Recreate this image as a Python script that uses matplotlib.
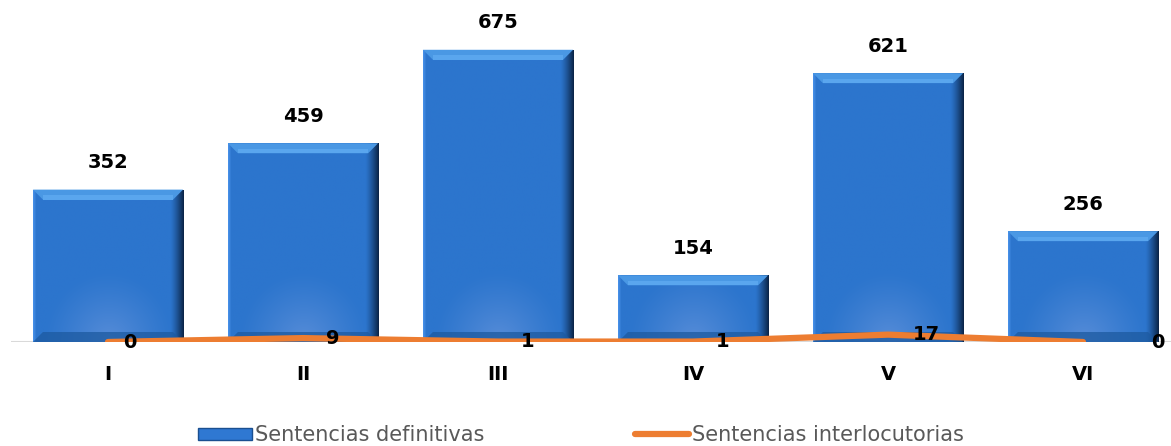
import numpy as np
import matplotlib
matplotlib.use("Agg")
import matplotlib.pyplot as plt
import matplotlib.transforms as mtransforms
from matplotlib.patches import Patch
from matplotlib.lines import Line2D

categories = ["I", "II", "III", "IV", "V", "VI"]
definitivas = [352, 459, 675, 154, 621, 256]
interlocutorias = [0, 9, 1, 1, 17, 0]
series_names = ["Sentencias definitivas", "Sentencias interlocutorias"]

W, H = 1171, 446
AX_H_PX = 342
YMAX = 790
fig = plt.figure(figsize=(W / 100, H / 100), dpi=100)
ax = fig.add_axes([10.5 / W, (H - AX_H_PX) / H, 1170 / W, AX_H_PX / H])
ax.set_xlim(-0.5, len(categories) - 0.5)
ax.set_ylim(0, YMAX)
ax.axis("off")

x = np.arange(len(categories))
bars = ax.bar(x, definitivas, width=0.77, color="#2f78d2", edgecolor="none", zorder=2)


def bar_texture(h_px, w_px=150):
    h_px = max(int(h_px), 10)
    yy, xx = np.mgrid[0:h_px, 0:w_px]
    px_from_bottom = (h_px - 1 - yy)
    u = xx / (w_px - 1)
    base = np.array([44, 117, 205], float) / 255
    img = np.ones((h_px, w_px, 3)) * base
    # subtle bottom glow (fixed pixel size)
    d = np.sqrt(((xx - w_px / 2) / 65.0) ** 2 + (px_from_bottom / 70.0) ** 2)
    glow = np.clip(1 - d, 0, 1) ** 1.2 * 0.45
    img = img + glow[..., None] * (np.array([140, 170, 230]) / 255 - base)
    # right dark edge
    r = np.clip((xx - (w_px - 14)) / 14.0, 0, 1) ** 1.3
    dark = np.array([8, 30, 60]) / 255
    img = img * (1 - r[..., None]) + dark * r[..., None]
    # left thin light edge
    l = np.clip((3 - xx) / 3.0, 0, 1)
    img = img + l[..., None] * 0.10
    return np.clip(img, 0, 1)


px_per_unit = AX_H_PX / YMAX
for b in bars:
    x0, y0 = b.get_x(), b.get_y()
    w, h = b.get_width(), b.get_height()
    tex = bar_texture(h * px_per_unit)
    im = ax.imshow(tex, extent=[x0, x0 + w, y0, y0 + h], aspect="auto", zorder=3,
                   interpolation="bilinear")
    im.set_clip_path(b)
    bev = 10 / px_per_unit
    dx = 10 / 195
    # top bevel (light)
    ax.fill([x0, x0 + w, x0 + w - dx, x0 + dx],
            [y0 + h, y0 + h, y0 + h - bev, y0 + h - bev],
            color="#4a98e4", zorder=4, lw=0)
    ax.fill([x0 + dx, x0 + w - dx, x0 + w - dx, x0 + dx],
            [y0 + h - bev * 0.55, y0 + h - bev * 0.55, y0 + h - bev, y0 + h - bev],
            color="#5aa6ee", zorder=4, lw=0)
    # bottom bevel (dark)
    ax.fill([x0, x0 + w, x0 + w - dx, x0 + dx],
            [y0, y0, y0 + bev, y0 + bev],
            color="#1d5aa0", zorder=4, lw=0, alpha=0.75)
    ax.annotate(f"{int(h)}", (x0 + w / 2, h), xytext=(0, 19.5),
                textcoords="offset points", ha="center", va="center",
                fontsize=14, fontweight="bold", color="black", zorder=6)

# baseline
ax.axhline(0, color="#d9d9d9", lw=2.2, zorder=1)

ax.plot(x, interlocutorias, color="#ED7D31", lw=4.5, zorder=5, solid_capstyle="round")
label_dx = [22, 30, 30, 30, 38, 75]
for xi, yi, dx in zip(x, interlocutorias, label_dx):
    ax.annotate(f"{yi}", (xi, yi), xytext=(dx * 0.72, 0), textcoords="offset points",
                ha="center", va="center", fontsize=14, fontweight="bold",
                color="black", zorder=7)

shift = mtransforms.ScaledTranslation(0, -32 / 100, fig.dpi_scale_trans)
for xi, c in zip(x, categories):
    ax.text(xi, 0, c, transform=ax.transData + shift, ha="center", va="center",
            fontsize=14, fontweight="bold")

handles = [Patch(facecolor="#2f78d2", edgecolor="#1a4f90"),
           Line2D([0], [0], color="#ED7D31", lw=4.5, solid_capstyle="round")]
leg = fig.legend(handles, series_names, loc="center", bbox_to_anchor=(581 / W, 11 / H),
                 ncol=2, frameon=False, fontsize=15, handlelength=2.6, handleheight=0.5,
                 handletextpad=0.15, columnspacing=7.2, borderpad=0, labelcolor="#595959")

fig.savefig("out.png", dpi=100)
